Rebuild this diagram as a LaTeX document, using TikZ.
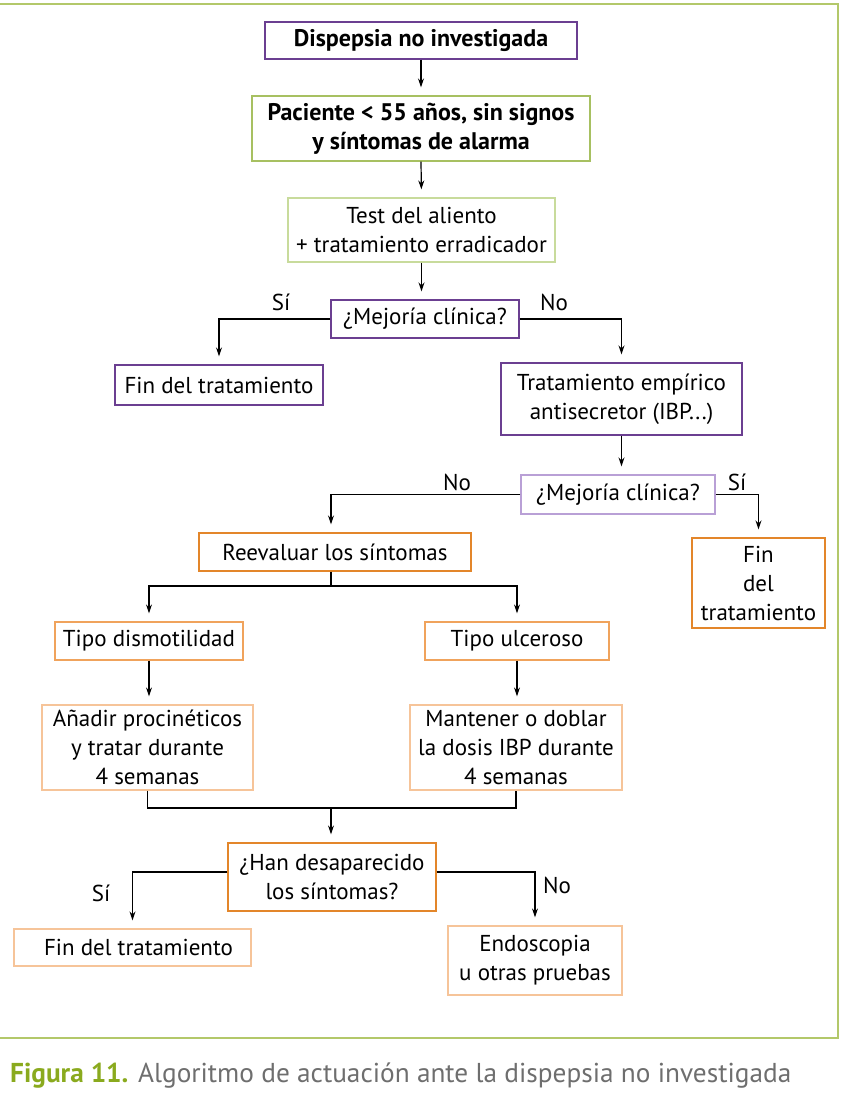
\documentclass[tikz,border=0pt]{standalone}
\usepackage{fontspec}
\setmainfont{PT Sans}
\usetikzlibrary{arrows.meta}
\definecolor{pdark}{HTML}{6B3F91}
\definecolor{plight}{HTML}{B9A0D6}
\definecolor{gmid}{HTML}{A7C061}
\definecolor{glight}{HTML}{C8DB9C}
\definecolor{odark}{HTML}{E3862A}
\definecolor{omid}{HTML}{F0A35C}
\definecolor{olight}{HTML}{F6C499}
\definecolor{frameg}{HTML}{B3C86A}
\definecolor{capgreen}{HTML}{8AAA1E}
\definecolor{capgray}{HTML}{6E6E6E}
\begin{document}
\begin{tikzpicture}[x=1pt,y=-1pt,
  box/.style={draw, line width=1.3pt, inner sep=0pt, align=center,
    font=\fontsize{23}{29}\selectfont},
  bbox/.style={box, font=\fontsize{24}{29}\selectfont\bfseries},
  arr/.style={line width=1.2pt, -{Stealth[length=9pt,width=6pt]}, shorten >=8pt},
  ln/.style={line width=1.2pt},
  lbl/.style={font=\fontsize{23}{26}\selectfont, inner sep=0pt}]
\useasboundingbox (0,0) rectangle (842,1096);
\draw[frameg, line width=1.3pt] (0,4) -- (838,4) -- (838,1038) -- (0,1038);

\node[bbox, draw=pdark, minimum width=312pt, minimum height=37pt] (n1) at (421,40.5) {Dispepsia no investigada};
\node[bbox, draw=gmid, minimum width=338pt, minimum height=65pt] (n2) at (421,128.5) {Paciente < 55 años, sin signos\\y síntomas de alarma};
\node[box, draw=glight, minimum width=267pt, minimum height=64pt] (n3) at (421.5,230) {Test del aliento\\+ tratamiento erradicador};
\node[box, draw=pdark, minimum width=188pt, minimum height=38pt] (n4) at (425,319) {¿Mejoría clínica?};
\node[box, draw=pdark, minimum width=208pt, minimum height=40pt] (n5) at (219,385) {Fin del tratamiento};
\node[box, draw=pdark, minimum width=241pt, minimum height=72pt] (n6) at (621.5,399) {Tratamiento empírico\\antisecretor (IBP...)};
\node[box, draw=plight, minimum width=194pt, minimum height=39pt] (n7) at (618,494.5) {¿Mejoría clínica?};
\node[box, draw=odark, minimum width=272pt, minimum height=38pt] (n8) at (335,552) {Reevaluar los síntomas};
\node[box, draw=odark, minimum width=133pt, minimum height=90pt] (n9) at (758.5,583) {Fin\\del\\tratamiento};
\node[box, draw=omid, minimum width=188pt, minimum height=38pt] (n10) at (149,641) {Tipo dismotilidad};
\node[box, draw=omid, minimum width=184pt, minimum height=38pt] (n11) at (517,641) {Tipo ulceroso};
\node[box, draw=olight, minimum width=211pt, minimum height=85pt] (n12) at (147.5,747.5) {Añadir procinéticos\\y tratar durante\\4 semanas};
\node[box, draw=olight, minimum width=212pt, minimum height=85pt] (n13) at (516,747.5) {Mantener o doblar\\la dosis IBP durante\\4 semanas};
\node[box, draw=odark, minimum width=208pt, minimum height=68pt] (n14) at (332,877) {¿Han desaparecido\\los síntomas?};
\node[box, draw=olight, minimum width=237pt, minimum height=37pt] (n15) at (132.5,947.5) {\hspace{12pt}Fin del tratamiento};
\node[box, draw=olight, minimum width=174pt, minimum height=69pt] (n16) at (535,960.5) {Endoscopia\\u otras pruebas};

\node[lbl] (l1) at (281,302) {Sí};
\node[lbl] (l2) at (554,302) {No};
\node[lbl] (l3) at (457,482) {No};
\node[lbl] (l4) at (737,482) {Sí};
\node[lbl] (l5) at (101,893) {Sí};
\node[lbl] (l6) at (557,885) {No};

\draw[arr] (n1.south) -- (n2.north);
\draw[arr] (n2.south) -- (n3.north);
\draw[arr] (n3.south) -- (n3.south |- n4.north);
\draw[arr] (n4.west) -| (n5.north);
\draw[arr] (n4.east) -| (n6.north);
\draw[arr] (n6.south) -- (n6.south |- n7.north);
\coordinate (nt) at (331,540);
\draw[arr] (n7.west) -| (nt |- n8.north);
\draw[arr] (n7.east) -| (n9.north);
\coordinate (sp) at (331,586);
\draw[ln] (sp |- n8.south) -- (sp);
\draw[arr] (sp) -| (n10.north);
\draw[arr] (sp) -| (n11.north);
\draw[arr] (n10.south) -- (n10.south |- n12.north);
\draw[arr] (n11.south) -- (n11.south |- n13.north);
\coordinate (mj) at (331,808);
\draw[ln] (n12.south) |- (mj) -| (n13.south);
\draw[arr] (mj) -- (mj |- n14.north);
\draw[arr] ([yshift=5pt]n14.west) -| (n15.north);
\draw[arr] ([yshift=5pt]n14.east) -| (n16.north);

\node[anchor=base west, inner sep=0pt, font=\fontsize{27.3}{32}\selectfont] (cap) at (10,1082)
  {\textcolor{capgreen}{\bfseries Figura 11.} \textcolor{capgray}{Algoritmo de actuación ante la dispepsia no investigada}};
\end{tikzpicture}
\end{document}
